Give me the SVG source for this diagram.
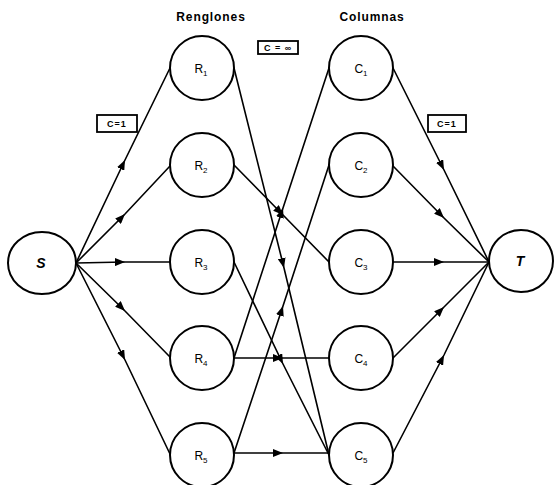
<svg xmlns="http://www.w3.org/2000/svg" width="554" height="485" viewBox="0 0 554 485">
<style>
.node{fill:#fff;stroke:#000;stroke-width:2}
.edge{fill:none;stroke:#000;stroke-width:1.6;marker-mid:url(#arr)}
.lbl{font-family:"Liberation Sans",Arial,sans-serif;font-size:12px;fill:#000;text-anchor:middle}
.sub{font-size:8px}
.st{font-family:"Liberation Sans",Arial,sans-serif;font-size:14px;font-style:italic;font-weight:bold;fill:#000;text-anchor:middle}
.title{font-family:"Liberation Sans",Arial,sans-serif;font-size:12px;font-weight:bold;letter-spacing:0.9px;fill:#000;text-anchor:middle}
.cap{fill:#fff;stroke:#000;stroke-width:1.8}
.capt{font-family:"Liberation Sans",Arial,sans-serif;font-size:9px;font-weight:bold;letter-spacing:1px;fill:#000;text-anchor:middle}
</style>
<defs>
<marker id="arr" markerUnits="userSpaceOnUse" markerWidth="10" markerHeight="8" refX="10" refY="4" orient="auto">
<path d="M0,0 L10,4 L0,8 z" fill="#000"/>
</marker>
</defs>
<rect width="554" height="485" fill="#fff"/>
<g id="connectors">
<path class="edge" d="M76,263 L125,160 L170,68"/>
<path class="edge" d="M76,263 L125,214 L170,166"/>
<path class="edge" d="M76,263 L125,262 L170,262"/>
<path class="edge" d="M76,263 L125,311 L170,357"/>
<path class="edge" d="M76,263 L125,360 L170,454"/>
<path class="edge" d="M234,68 L284,268 L329,455"/>
<path class="edge" d="M234,165 L283,215 L329,262"/>
<path class="edge" d="M234,262 L283,364 L329,455"/>
<path class="edge" d="M234,358 L283,208 L329,68"/>
<path class="edge" d="M234,358 L283,358 L329,358"/>
<path class="edge" d="M234,453 L283,306 L329,165"/>
<path class="edge" d="M234,453 L283,453 L329,453"/>
<path class="edge" d="M393,68 L444,170 L489,262"/>
<path class="edge" d="M393,166 L444,218 L489,262"/>
<path class="edge" d="M393,262 L444,262 L489,262"/>
<path class="edge" d="M393,358 L444,307 L489,262"/>
<path class="edge" d="M393,453 L444,355 L489,262"/>
</g>
<g id="S"><ellipse class="node" cx="42" cy="263" rx="34" ry="31"/><text class="st" x="41" y="268">S</text></g>
<g id="R1"><circle class="node" cx="202" cy="68" r="32"/><text class="lbl" x="201" y="73">R<tspan class="sub" dy="3">1</tspan></text></g>
<g id="R2"><circle class="node" cx="202" cy="165" r="32"/><text class="lbl" x="201" y="170">R<tspan class="sub" dy="3">2</tspan></text></g>
<g id="R3"><circle class="node" cx="202" cy="262" r="32"/><text class="lbl" x="201" y="267">R<tspan class="sub" dy="3">3</tspan></text></g>
<g id="R4"><circle class="node" cx="202" cy="358" r="32"/><text class="lbl" x="201" y="363">R<tspan class="sub" dy="3">4</tspan></text></g>
<g id="R5"><circle class="node" cx="202" cy="455" r="32"/><text class="lbl" x="201" y="460">R<tspan class="sub" dy="3">5</tspan></text></g>
<g id="C1"><circle class="node" cx="361" cy="68" r="32"/><text class="lbl" x="361" y="73">C<tspan class="sub" dy="3">1</tspan></text></g>
<g id="C2"><circle class="node" cx="361" cy="165" r="32"/><text class="lbl" x="361" y="170">C<tspan class="sub" dy="3">2</tspan></text></g>
<g id="C3"><circle class="node" cx="361" cy="262" r="32"/><text class="lbl" x="361" y="267">C<tspan class="sub" dy="3">3</tspan></text></g>
<g id="C4"><circle class="node" cx="361" cy="358" r="32"/><text class="lbl" x="361" y="363">C<tspan class="sub" dy="3">4</tspan></text></g>
<g id="C5"><circle class="node" cx="361" cy="455" r="32"/><text class="lbl" x="361" y="460">C<tspan class="sub" dy="3">5</tspan></text></g>
<g id="T"><ellipse class="node" cx="521" cy="261" rx="32" ry="31"/><text class="st" x="520" y="266" font-weight="normal">T</text></g>
<g id="titles">
<text class="title" x="211" y="21">Renglones</text>
<text class="title" x="372" y="21">Columnas</text>
</g>
<g id="capacities">
<rect class="cap" x="97" y="115" width="40" height="17"/><text class="capt" x="117" y="127">C=1</text>
<rect class="cap" x="258" y="41" width="40" height="13"/><text class="capt" x="278" y="51">C = ∞</text>
<rect class="cap" x="428" y="115" width="38" height="17"/><text class="capt" x="447" y="127">C=1</text>
</g>
</svg>
